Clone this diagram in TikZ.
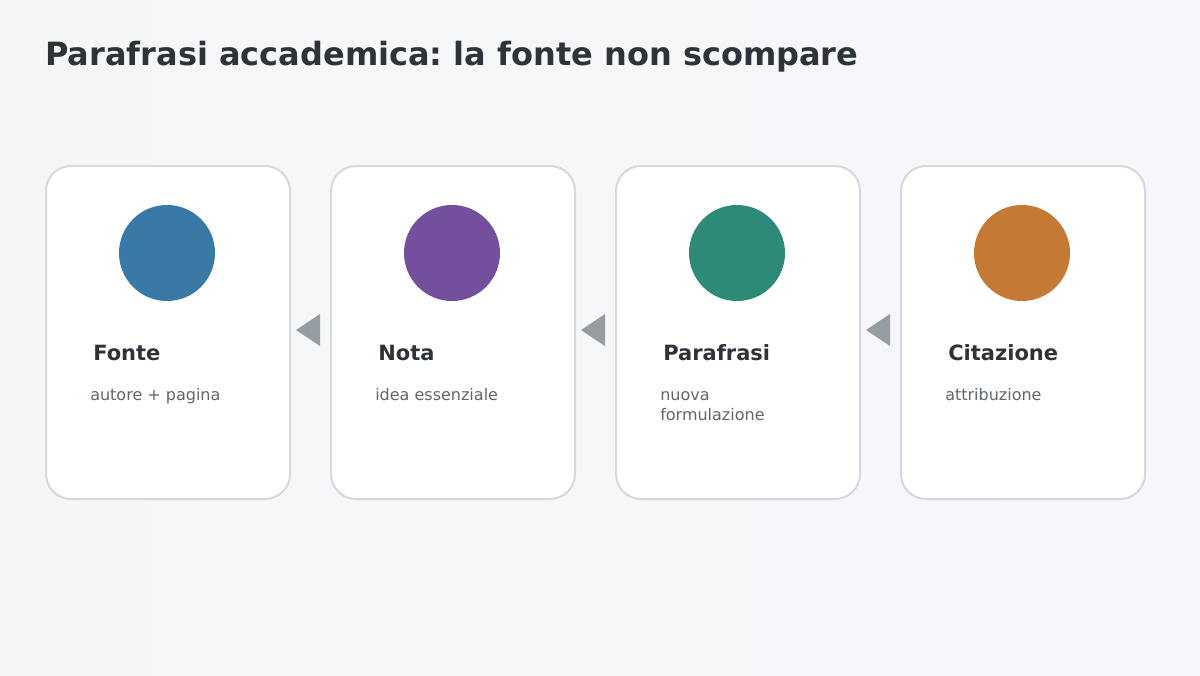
\documentclass[tikz,border=0pt]{standalone}
\usepackage{fontspec}
\setmainfont{DejaVu Sans}
\frenchspacing
\definecolor{bgL}{HTML}{F5F7F7}
\definecolor{bgR}{HTML}{F8F6FB}
\definecolor{titlec}{HTML}{2D3339}
\definecolor{subc}{HTML}{5F6670}
\definecolor{cardborder}{HTML}{D5D8DC}
\definecolor{arrowc}{HTML}{959DA3}
\definecolor{cblue}{HTML}{3A78A5}
\definecolor{cpurple}{HTML}{744F9D}
\definecolor{cgreen}{HTML}{2E8A78}
\definecolor{corange}{HTML}{C47A35}
\tikzset{
  card/.style={draw=cardborder, line width=1.5pt, fill=white, rounded corners=18.75pt},
  dot/.style={circle, minimum size=72pt, inner sep=0pt},
  cardtitle/.style={anchor=base west, inner sep=0pt, text=titlec, font=\fontsize{15.75}{18}\selectfont\bfseries},
  cardsub/.style={anchor=base west, inner sep=0pt, text=subc, font=\fontsize{12}{15}\selectfont, align=left},
  tri/.style={fill=arrowc, draw=none}
}
\begin{document}
\begin{tikzpicture}[x=0.75pt,y=-0.75pt]
\shade[left color=bgL, right color=bgR] (0,0) rectangle (1200,675);
\useasboundingbox (0,0) rectangle (1200,675);
\node[anchor=base west, inner sep=0pt, text=titlec, font=\fontsize{24}{28}\selectfont\bfseries] (title) at (45,65) {Parafrasi accademica: la fonte non scompare};
% cards
\foreach \i/\x/\col/\ttl in {1/46/cblue/Fonte, 2/331/cpurple/Nota, 3/616/cgreen/Parafrasi, 4/901/corange/Citazione}{
  \draw[card] (\x,166) rectangle ++(244,333);
  \node[dot, fill=\col] (c\i) at (\x+121,253) {};
  \node[cardtitle] (t\i) at (\x+47,360) {\ttl};
}
\node[cardsub] (s1) at (90,400) {autore + pagina};
\node[cardsub] (s2) at (375,400) {idea essenziale};
\node[cardsub] (s3) at (660,420) {nuova\\formulazione};
\node[cardsub] (s4) at (945,400) {attribuzione};
% arrows
\foreach \x/\n in {296/a1, 581/a2, 866/a3}{
  \coordinate (\n) at (\x,330);
  \fill[tri] (\n) -- ++(24,-16) -- ++(0,32) -- cycle;
}
\end{tikzpicture}
\end{document}
